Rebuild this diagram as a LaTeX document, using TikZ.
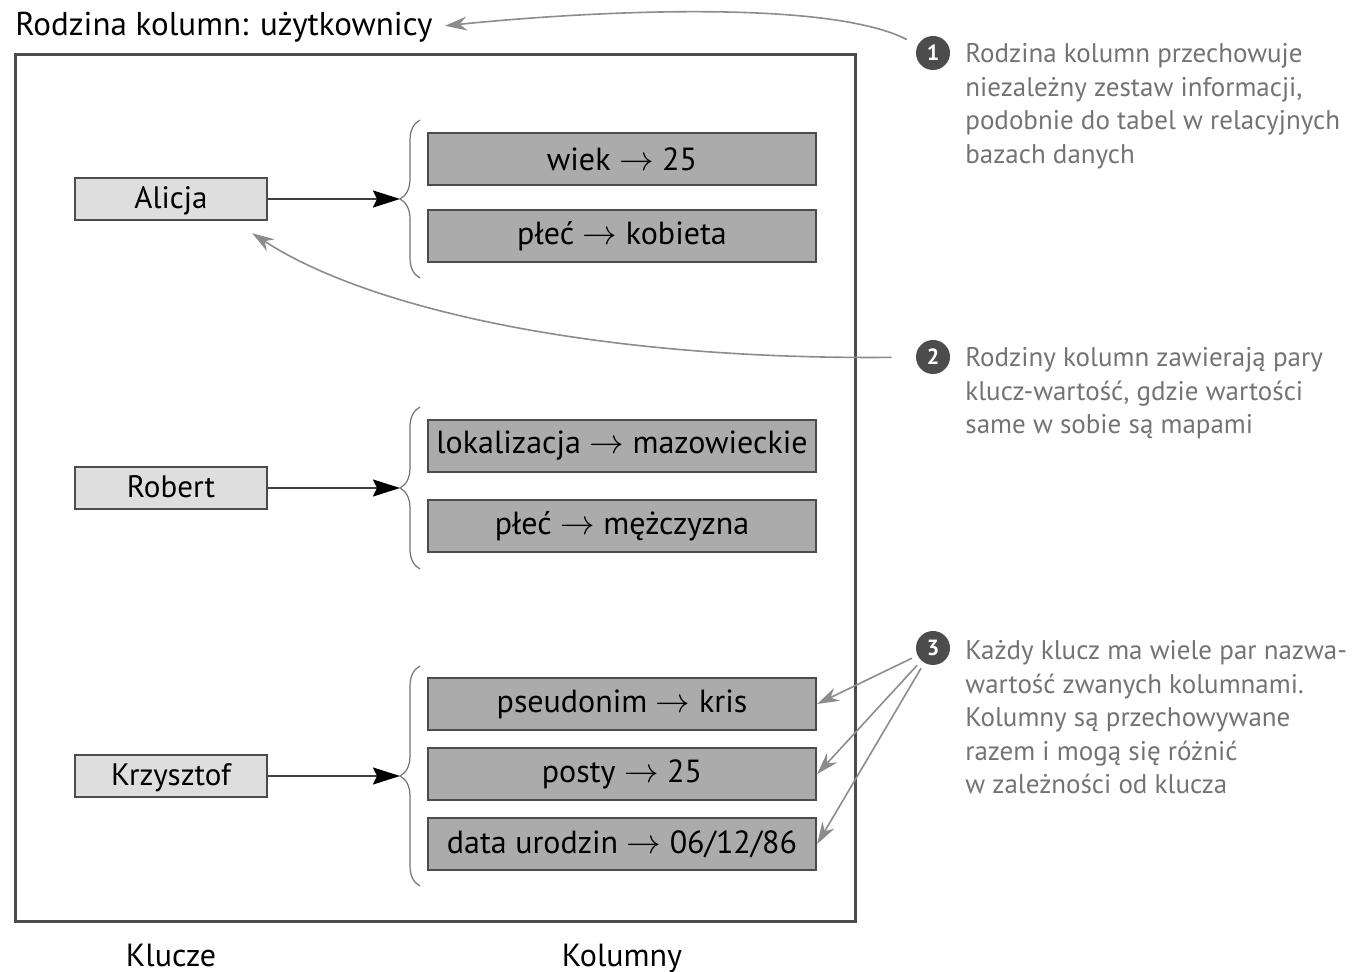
\documentclass[tikz,border=0pt]{standalone}
\usepackage{fontspec}
\setmainfont{PT Sans}
\usetikzlibrary{arrows.meta,decorations.pathreplacing}

\begin{document}
\begin{tikzpicture}[x=0.5pt,y=-0.5pt,
    klucz/.style={draw=black!70,line width=1.2pt,fill=black!13,minimum width=96pt,
      minimum height=21pt,inner sep=0pt,text height=11.5pt,text depth=1.5pt,
      font=\fontsize{15.5}{17}\selectfont},
    kolumna/.style={draw=black!70,line width=1.2pt,fill=black!33,minimum width=194pt,
      minimum height=26pt,inner sep=0pt,font=\fontsize{16}{18}\selectfont},
    klamra/.style={draw=black!55,line width=0.6pt,decorate,decoration={brace,amplitude=10pt}},
    strzalka/.style={draw=black!75,line width=1pt,-{Stealth[length=13.5pt,width=8.5pt,inset=2pt,black]}},
    uwaga/.style={draw=black!45,line width=0.8pt,-{Stealth[length=11pt,width=7pt]}},
    numer/.style={circle,fill=black!70,text=white,inner sep=0pt,minimum size=17pt,
      font=\bfseries\fontsize{11}{11}\selectfont},
    opis/.style={anchor=north west,align=left,text=black!55,inner sep=0pt,
      font=\fontsize{13.5}{16.75}\selectfont},
    podpis/.style={anchor=base,font=\fontsize{16}{18}\selectfont}]

  \useasboundingbox (0,0) rectangle (1372,972);
  \draw[black!70,line width=1.5pt] (15,55) rectangle (855,922);
  \node[anchor=west,inner sep=0pt,font=\fontsize{16.5}{18}\selectfont] (tytul) at (15,27)
    {Rodzina kolumn: użytkownicy};

  \node[klucz] (alicja) at (171,199) {Alicja};
  \node[klucz] (robert) at (171,488) {Robert};
  \node[klucz] (krzysztof) at (171,776) {Krzysztof};

  \node[kolumna] (wiek) at (622,159) {wiek $\rightarrow$ 25};
  \node[kolumna] (plec1) at (622,236) {płeć $\rightarrow$ kobieta};
  \node[kolumna] (lok) at (622,446) {lokalizacja $\rightarrow$ mazowieckie};
  \node[kolumna] (plec2) at (622,526) {płeć $\rightarrow$ mężczyzna};
  \node[kolumna] (pseudo) at (622,704) {pseudonim $\rightarrow$ kris};
  \node[kolumna] (posty) at (622,774) {posty $\rightarrow$ 25};
  \node[kolumna] (data) at (622,844) {data urodzin $\rightarrow$ 06/12/86};

  \foreach \k/\g/\d/\s in {alicja/120/278/199,robert/407/569/488,krzysztof/666/886/776}{
    \draw[klamra] (420,\d) -- (420,\g);
    \coordinate (k-\k) at (400,\s);
    \draw[strzalka] (\k) -- (k-\k);
  }

  \node[podpis] (klucze) at (171,966) {Klucze};
  \node[podpis] (kolumny) at (622,966) {Kolumny};

  \foreach \n/\y in {1/53,2/357,3/648}
    \node[numer] (n\n) at (933,\y) {\n};

  \node[opis] (t1) at (965,43) {Rodzina kolumn przechowuje\\niezależny zestaw informacji,\\
    podobnie do tabel w relacyjnych\\bazach danych};
  \node[opis] (t2) at (965,347) {Rodziny kolumn zawierają pary\\klucz-wartość, gdzie wartości\\
    same w sobie są mapami};
  \node[opis] (t3) at (965,640) {Każdy klucz ma wiele par nazwa-\\wartość zwanych kolumnami.\\
    Kolumny są przechowywane\\razem i mogą się różnić\\w zależności od klucza};

  \draw[uwaga,shorten <=6pt,shorten >=6pt] (n1) .. controls (830,0) and (600,10) .. (tytul.east);
  \draw[uwaga,shorten <=12pt] (n2) .. controls (600,360) and (370,310)
    .. ([xshift=-8pt,yshift=-6pt]alicja.south east);
  \foreach \c in {pseudo,posty,data}
    \draw[uwaga,shorten <=3pt] (n3) -- (\c.east);
\end{tikzpicture}
\end{document}
